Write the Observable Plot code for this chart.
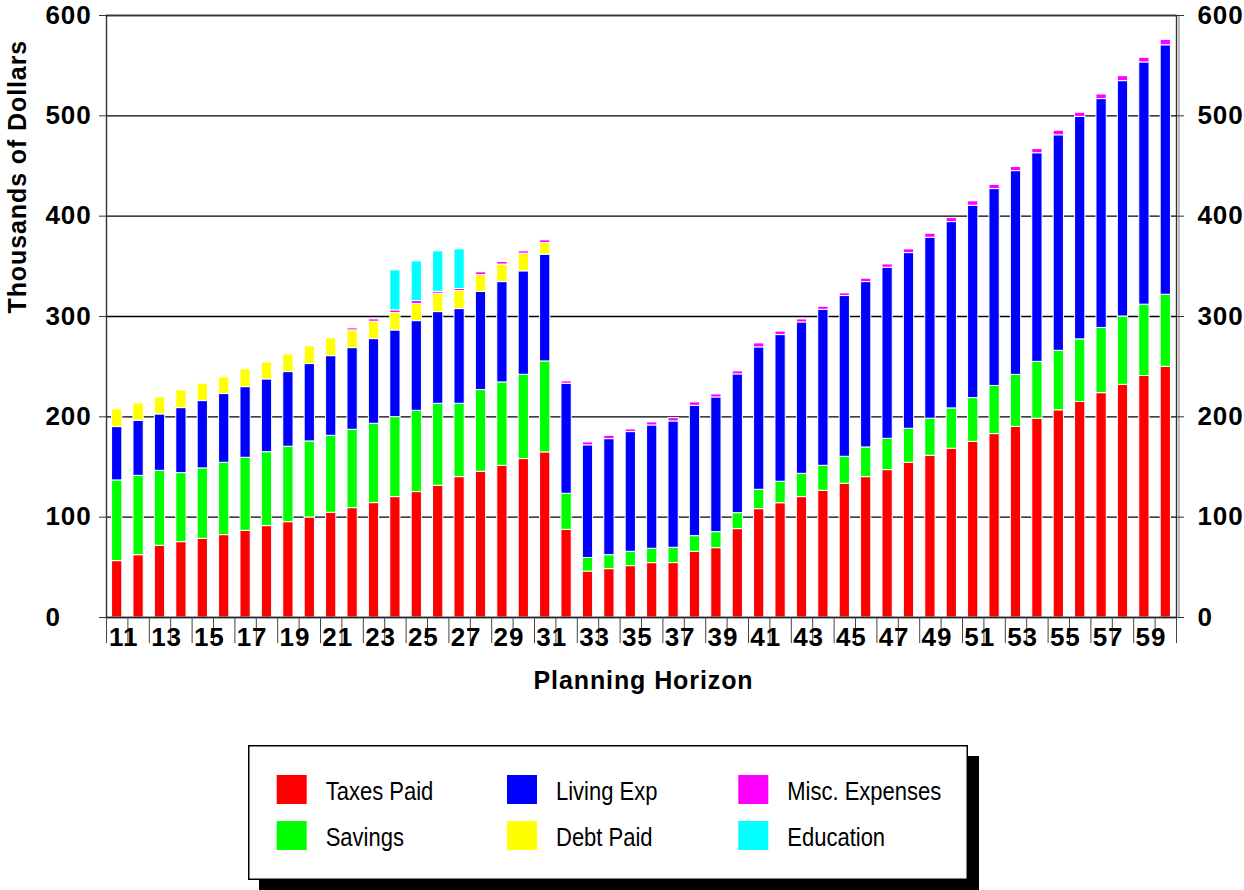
<!DOCTYPE html>
<html>
<head>
<meta charset="utf-8">
<script src="https://cdn.jsdelivr.net/npm/d3@7"></script>
<script src="https://cdn.jsdelivr.net/npm/@observablehq/plot@0.6"></script>
<style>
  html, body { margin: 0; padding: 0; background: #fff; }
  #wrap { position: relative; width: 1244px; height: 890px; overflow: hidden;
          font-family: "Liberation Sans", Arial, Helvetica, sans-serif; }
  #chart svg text { letter-spacing: 0.9px; }
  #legend { position: absolute; left: 248px; top: 745px; }
</style>
</head>
<body>
<div id="wrap">
  <div id="chart"></div>
  <svg id="legend" width="732" height="146"></svg>
</div>
<script>
// Planning horizon (years) and the yearly cash-flow breakdown, thousands of dollars
const years = [11, 12, 13, 14, 15, 16, 17, 18, 19, 20,
               21, 22, 23, 24, 25, 26, 27, 28, 29, 30,
               31, 32, 33, 34, 35, 36, 37, 38, 39, 40,
               41, 42, 43, 44, 45, 46, 47, 48, 49, 50,
               51, 52, 53, 54, 55, 56, 57, 58, 59, 60];

const taxesPaid = [56.2, 62.1, 71.5, 75.1, 78.4, 82.1, 86.4, 91.1, 95.0, 99.7,
                   104.4, 109.0, 114.0, 120.0, 125.0, 131.3, 139.9, 145.2, 151.2, 157.9,
                   164.5, 87.4, 45.8, 48.2, 51.2, 54.2, 54.2, 65.5, 69.1, 88.1,
                   108.0, 113.9, 120.0, 126.3, 133.3, 139.9, 146.9, 154.2, 161.2, 168.2,
                   175.1, 182.8, 190.0, 198.1, 206.5, 214.8, 223.6, 231.9, 240.7, 249.8];

const savings = [80.4, 79.1, 74.7, 68.8, 70.2, 72.1, 72.8, 73.7, 75.2, 75.8,
                 76.7, 78.1, 79.1, 79.7, 81.0, 81.7, 73.1, 81.5, 83.1, 84.0,
                 90.7, 35.9, 13.5, 13.9, 14.3, 14.3, 15.3, 15.6, 16.0, 15.9,
                 19.3, 21.4, 23.2, 24.9, 26.9, 29.6, 31.2, 33.9, 36.9, 40.2,
                 43.6, 48.0, 51.8, 56.7, 59.3, 62.4, 65.0, 68.1, 71.1, 71.9];

const livingExp = [53.2, 54.9, 56.2, 64.8, 67.1, 68.5, 70.4, 72.5, 74.4, 77.1,
                   79.4, 81.4, 84.4, 86.4, 89.4, 91.4, 94.4, 97.7, 100.0, 103.1,
                   106.4, 109.7, 112.3, 115.7, 119.3, 122.9, 125.9, 129.9, 134.2, 138.3,
                   141.9, 146.2, 150.9, 155.5, 160.2, 164.8, 170.5, 175.1, 180.4, 185.7,
                   191.7, 196.2, 203.1, 207.9, 214.8, 221.7, 228.1, 234.6, 241.4, 248.6];

const debtPaid = [17.6, 17.3, 16.9, 17.6, 17.3, 16.6, 17.7, 16.9, 17.6, 17.6,
                  17.7, 17.6, 17.3, 17.3, 17.0, 18.3, 18.0, 16.9, 17.5, 17.6,
                  11.6, 0, 0, 0, 0, 0, 0, 0, 0, 0,
                  0, 0, 0, 0, 0, 0, 0, 0, 0, 0,
                  0, 0, 0, 0, 0, 0, 0, 0, 0, 0];

const miscExpenses = [0, 0, 0, 0, 0, 0, 0, 0, 0, 0,
                      0, 2.0, 2.3, 2.7, 3.0, 2.0, 2.0, 2.7, 2.5, 2.3,
                      2.7, 2.3, 2.9, 3.3, 2.6, 3.0, 3.3, 3.4, 3.0, 3.0,
                      4.0, 3.5, 3.0, 3.0, 2.6, 3.4, 3.3, 3.7, 4.0, 4.0,
                      4.4, 4.2, 4.1, 4.2, 4.6, 4.2, 4.6, 4.9, 4.6, 5.4];

const education = [0, 0, 0, 0, 0, 0, 0, 0, 0, 0,
                   0, 0, 0, 39.9, 39.5, 40.2, 39.5, 0, 0, 0,
                   0, 0, 0, 0, 0, 0, 0, 0, 0, 0,
                   0, 0, 0, 0, 0, 0, 0, 0, 0, 0,
                   0, 0, 0, 0, 0, 0, 0, 0, 0, 0];

// Stack order, bottom to top
const seriesNames  = ["Taxes Paid", "Savings", "Living Exp", "Debt Paid", "Misc. Expenses", "Education"];
const seriesValues = [taxesPaid, savings, livingExp, debtPaid, miscExpenses, education];
const seriesColors = ["#ff0000", "#00ff00", "#0000ff", "#ffff00", "#ff00ff", "#00ffff"];

const yTicks = [0, 100, 200, 300, 400, 500, 600];
const xLabelYears = years.filter(y => y % 2 === 1);

// Long table for the stacked bars
const rows = [];
years.forEach((yr, i) => {
  seriesNames.forEach((name, s) => {
    const v = seriesValues[s][i];
    if (v > 0) rows.push({year: yr, series: name, value: v});
  });
});

const W = 1244, H = 735;
const M = {top: 15, right: 68, bottom: 118, left: 106};
const step = (W - M.left - M.right) / years.length;
const font = '"Liberation Sans", Arial, Helvetica, sans-serif';

const chart = Plot.plot({
  width: W,
  height: H,
  marginTop: M.top,
  marginRight: M.right,
  marginBottom: M.bottom,
  marginLeft: M.left,
  style: {fontFamily: font, background: "white", color: "#000", overflow: "visible"},
  x: {type: "band", domain: years, paddingInner: 0.52, paddingOuter: 0.26, round: false, axis: null},
  y: {domain: [0, 600], axis: null},
  color: {domain: seriesNames, range: seriesColors},
  marks: [
    // horizontal gridlines
    Plot.ruleY(yTicks.filter(d => d > 0), {stroke: "#000", strokeWidth: 1.4}),
    // stacked bars
    Plot.barY(rows, {x: "year", y: "value", fill: "series", stroke: "white", strokeWidth: 1}),
    // plot frame and baseline
    Plot.frame({stroke: "#333", strokeWidth: 1.4}),
    Plot.ruleY([0], {stroke: "#222", strokeWidth: 1.6}),
    Plot.ruleX([years[years.length - 1]], {dx: step / 2 + 2.5, y1: 0, y2: 600, stroke: "#777", strokeWidth: 1}),
    // category boundary ticks below the baseline
    Plot.ruleX(years, {x: d => d, dx: -step / 2, y1: 0, y2: -26, stroke: "#444", strokeWidth: 1}),
    Plot.ruleX([years[years.length - 1]], {x: d => d, dx: step / 2, y1: 0, y2: -26, stroke: "#444", strokeWidth: 1}),
    // value ticks on both sides
    Plot.axisY(yTicks, {anchor: "left", tickSize: 7, tickFormat: () => "", label: null, stroke: "#333"}),
    Plot.axisY(yTicks, {anchor: "right", tickSize: 7, tickFormat: () => "", label: null, stroke: "#333"}),
    // value labels
    Plot.text(yTicks, {y: d => d, text: d => String(d), frameAnchor: "left", dx: -61, textAnchor: "start",
                       fontSize: 26, fontWeight: "bold", fill: "#000"}),
    Plot.text(yTicks, {y: d => d, text: d => String(d), frameAnchor: "right", dx: 21, textAnchor: "start",
                       fontSize: 26, fontWeight: "bold", fill: "#000"}),
    // year labels
    Plot.text(xLabelYears, {x: d => d, text: d => String(d), frameAnchor: "bottom", dy: 28.5, dx: 6.5,
                            fontSize: 26, fontWeight: "bold", fill: "#000"}),
    // axis titles
    Plot.text(["Planning Horizon"], {text: d => d, frameAnchor: "bottom", dy: 71, dx: 2,
                                     fontSize: 25, fontWeight: "bold", fill: "#000"}),
    Plot.text(["Thousands of Dollars"], {text: d => d, frameAnchor: "left", rotate: -90, dx: -89, dy: -3,
                                         fontSize: 25, fontWeight: "bold", fill: "#000"})
  ]
});
document.getElementById("chart").appendChild(chart);

// Legend box with drop shadow
const leg = d3.select("#legend");
const boxW = 720, boxH = 135;
leg.append("rect").attr("x", 11).attr("y", 11).attr("width", boxW).attr("height", boxH).attr("fill", "#000");
leg.append("rect").attr("x", 0.75).attr("y", 0.75).attr("width", boxW - 1.5).attr("height", boxH - 1.5)
   .attr("fill", "#fff").attr("stroke", "#000").attr("stroke-width", 1.5);

const colX = [28.7, 259, 490.3];
const rowY = [30, 76];
// legend reads column by column
const legendOrder = [
  {name: "Taxes Paid", col: 0, row: 0},
  {name: "Savings", col: 0, row: 1},
  {name: "Living Exp", col: 1, row: 0},
  {name: "Debt Paid", col: 1, row: 1},
  {name: "Misc. Expenses", col: 2, row: 0},
  {name: "Education", col: 2, row: 1}
];
legendOrder.forEach(item => {
  const color = seriesColors[seriesNames.indexOf(item.name)];
  const x = colX[item.col], y = rowY[item.row];
  leg.append("rect").attr("x", x).attr("y", y).attr("width", 30).attr("height", 29).attr("fill", color);
  leg.append("text")
     .attr("transform", `translate(${x + 49},${y + 25}) scale(1,1.16)`)
     .attr("font-family", font)
     .attr("font-size", 22)
     .attr("fill", "#000")
     .text(item.name);
});
</script>
</body>
</html>
